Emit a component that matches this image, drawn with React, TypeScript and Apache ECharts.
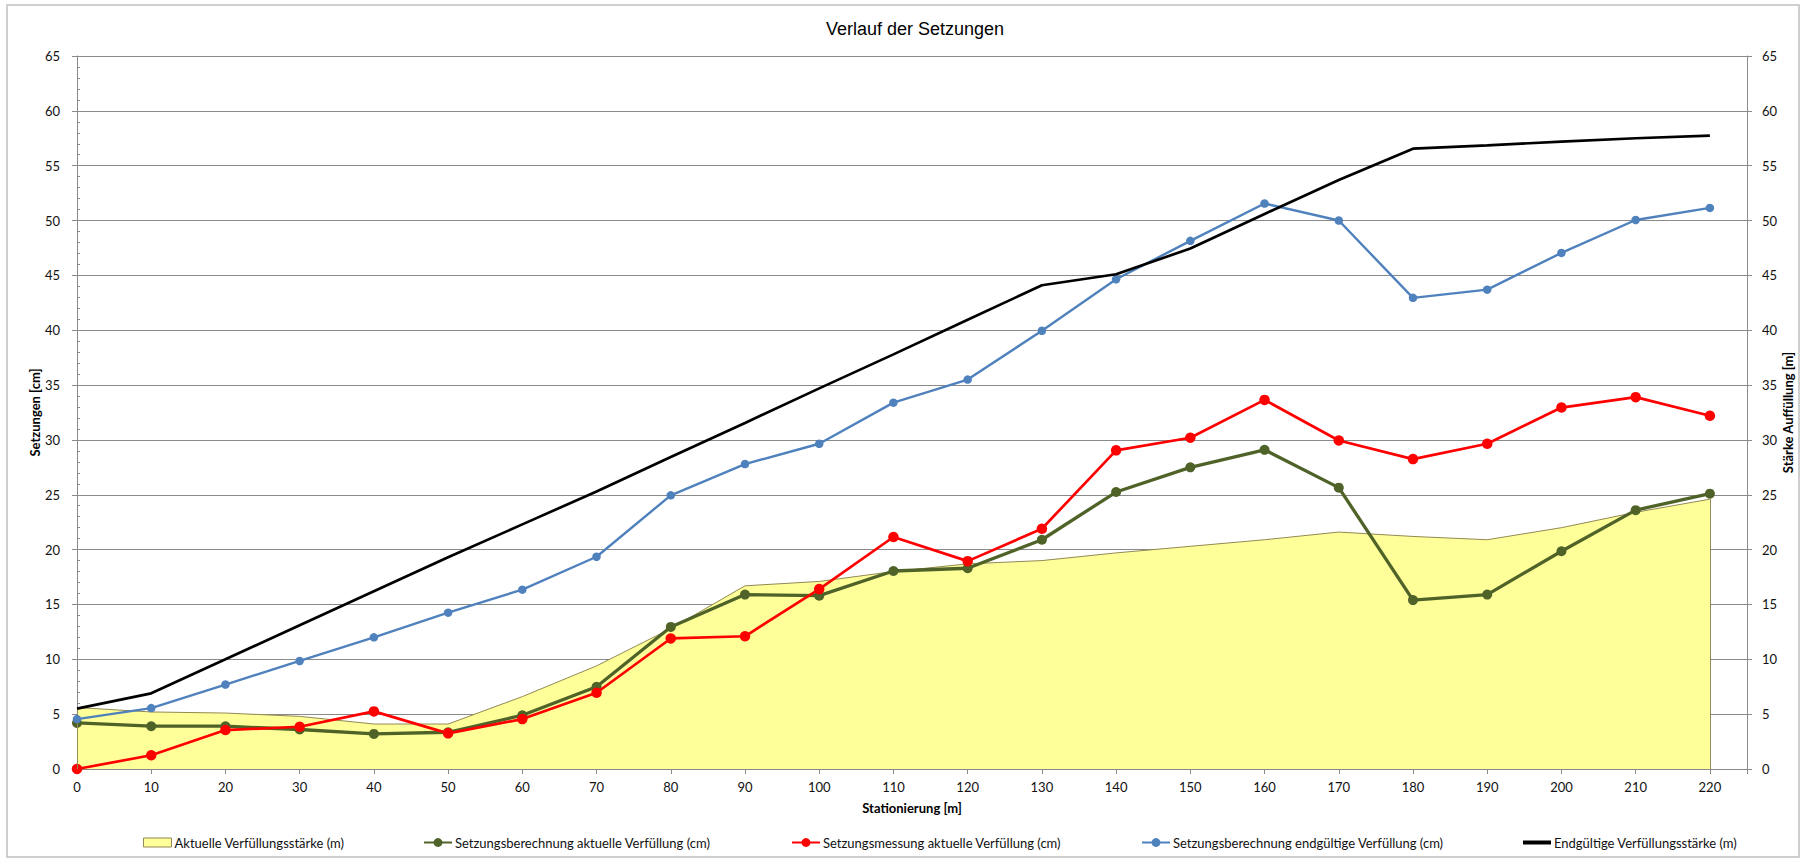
import React, { useEffect, useRef } from "react";
import * as echarts from "echarts";

// ---- data ----
const stations = [0, 10, 20, 30, 40, 50, 60, 70, 80, 90, 100, 110, 120, 130, 140, 150, 160, 170, 180, 190, 200, 210, 220];
const fillCurrent = [5.6, 5.2, 5.1, 4.8, 4.1, 4.1, 6.6, 9.4, 12.8, 16.7, 17.1, 18.0, 18.7, 19.0, 19.7, 20.3, 20.9, 21.6, 21.2, 20.9, 22.0, 23.4, 24.6];
const calcCurrent = [4.2, 3.9, 3.9, 3.6, 3.2, 3.35, 4.9, 7.5, 12.95, 15.9, 15.8, 18.05, 18.3, 20.9, 25.25, 27.5, 29.1, 25.65, 15.4, 15.9, 19.85, 23.6, 25.1];
const measured = [0, 1.25, 3.55, 3.85, 5.25, 3.25, 4.55, 6.95, 11.9, 12.1, 16.4, 21.15, 18.95, 21.9, 29.05, 30.2, 33.65, 29.95, 28.25, 29.65, 32.95, 33.9, 32.2];
const calcFinal = [4.55, 5.55, 7.7, 9.85, 12.0, 14.25, 16.35, 19.35, 24.95, 27.8, 29.65, 33.4, 35.5, 39.95, 44.65, 48.15, 51.55, 50.0, 42.95, 43.7, 47.05, 50.05, 51.15];
const fillFinal = [5.5, 6.9, 10.0, 13.1, 16.2, 19.3, 22.3, 25.3, 28.45, 31.55, 34.7, 37.8, 40.95, 44.1, 45.1, 47.45, 50.6, 53.7, 56.55, 56.85, 57.2, 57.5, 57.75];

const seriesNames = [
  "Aktuelle Verfüllungsstärke (m)",
  "Setzungsberechnung aktuelle Verfüllung (cm)",
  "Setzungsmessung aktuelle Verfüllung (cm)",
  "Setzungsberechnung endgültige Verfüllung (cm)",
  "Endgültige Verfüllungsstärke (m)",
];
const yTickMax = 65;
const yTickStep = 5;
const xMax = 225;
const xStep = 10;

// ---- layout / style ----
const legendLefts = [143, 423, 791, 1141, 1523];
const FONT = "Lato";
const GRID_COLOR = "#8a8a8a";
const AREA_FILL = "#FFFF99";
const AREA_LINE = "#938953";
const GREEN = "#4F6228";
const RED = "#FF0000";
const BLUE = "#4F81BD";
const BLACK = "#000000";

const pairs = (vals: number[]) => stations.map((s, i) => [s, vals[i]]);

export default function App() {
  const ref = useRef<HTMLDivElement>(null);

  useEffect(() => {
    if (!ref.current) return;
    const chart = echarts.init(ref.current, null, { renderer: "svg" });
    const last = stations.length - 1;

    const labelStyle = { fontFamily: FONT, fontSize: 13, color: "#111" };
    const nameStyle = { fontFamily: FONT, fontSize: 13, fontWeight: "bold" as const, color: "#000" };

    const legends = seriesNames.map((n, i) => {
      let item: any = { name: n };
      let h = 11;
      if (i === 0) {
        item = { name: n, icon: "rect", itemStyle: { color: AREA_FILL, borderColor: AREA_LINE, borderWidth: 1 } };
        h = 9;
      } else if (i === 4) {
        item = { name: n, icon: "rect", itemStyle: { color: BLACK, borderWidth: 0 } };
        h = 4;
      }
      return {
        show: true,
        left: legendLefts[i],
        top: 836,
        padding: 0,
        orient: "horizontal",
        itemWidth: 28,
        itemHeight: h,
        itemGap: 0,
        selectedMode: false,
        textStyle: { fontFamily: FONT, fontSize: 13, color: "#111", padding: [0, 0, 0, -2] },
        data: [item],
      };
    });

    chart.setOption({
      animation: false,
      backgroundColor: "#ffffff",
      title: {
        text: "Verlauf der Setzungen",
        left: 910,
        top: 15,
        textAlign: "center",
        textStyle: { fontFamily: "Liberation Sans", fontSize: 18, fontWeight: "normal", color: "#000" },
      },
      graphic: [
        {
          type: "rect",
          shape: { x: 7, y: 5, width: 1792, height: 852 },
          style: { fill: "none", stroke: "#c0c0c0", lineWidth: 1.5 },
          silent: true,
          z: -10,
        },
      ],
      legend: legends,
      grid: { left: 77, right: 66, top: 56, bottom: 95, containLabel: false },
      xAxis: {
        type: "value",
        min: 0,
        max: xMax,
        interval: xStep,
        name: "Stationierung [m]",
        nameLocation: "middle",
        nameGap: 32,
        nameMoveOverlap: false,
        nameTextStyle: nameStyle,
        axisLine: { show: true, onZero: false, lineStyle: { color: GRID_COLOR, width: 1 } },
        axisTick: { show: true, inside: false, length: 5, lineStyle: { color: GRID_COLOR } },
        axisLabel: {
          ...labelStyle,
          margin: 11,
          formatter: (v: number) => (v > stations[last] ? "" : String(v)),
        },
        splitLine: { show: false },
      },
      yAxis: [
        {
          type: "value",
          position: "left",
          min: 0,
          max: yTickMax,
          interval: yTickStep,
          name: "Setzungen [cm]",
          nameLocation: "middle",
          nameGap: 36,
          nameMoveOverlap: false,
          nameTextStyle: nameStyle,
          axisLine: { show: true, lineStyle: { color: GRID_COLOR, width: 1 } },
          axisTick: { show: true, inside: false, length: 5, lineStyle: { color: GRID_COLOR } },
          axisLabel: { ...labelStyle, margin: 17 },
          splitLine: { show: true, lineStyle: { color: GRID_COLOR, width: 1 } },
        },
        {
          type: "value",
          position: "right",
          min: 0,
          max: yTickMax,
          interval: yTickStep,
          name: "Stärke Auffüllung [m]",
          nameLocation: "middle",
          nameGap: 34,
          nameMoveOverlap: false,
          nameTextStyle: nameStyle,
          axisLine: { show: true, lineStyle: { color: GRID_COLOR, width: 1 } },
          axisTick: { show: true, inside: false, length: 5, lineStyle: { color: GRID_COLOR } },
          axisLabel: { ...labelStyle, margin: 15 },
          splitLine: { show: false },
        },
        {
          // minor ticks on the primary axis (inside)
          type: "value",
          position: "left",
          min: 0,
          max: yTickMax,
          interval: 1,
          axisLine: { show: false },
          axisTick: { show: true, inside: true, length: 3, lineStyle: { color: GRID_COLOR } },
          axisLabel: { show: false },
          splitLine: { show: false },
        },
      ],
      series: [
        {
          name: seriesNames[0],
          type: "line",
          yAxisIndex: 1,
          data: pairs(fillCurrent),
          showSymbol: false,
          symbol: "none",
          lineStyle: { color: AREA_LINE, width: 1 },
          itemStyle: { color: AREA_FILL },
          areaStyle: { color: AREA_FILL, opacity: 1 },
          z: 1,
          silent: true,
          markLine: {
            silent: true,
            symbol: "none",
            label: { show: false },
            lineStyle: { color: AREA_LINE, width: 1, type: "solid" },
            data: [
              [{ coord: [stations[0], 0] }, { coord: [stations[0], fillCurrent[0]] }],
              [{ coord: [stations[last], 0] }, { coord: [stations[last], fillCurrent[last]] }],
            ],
          },
        },
        {
          name: seriesNames[1],
          type: "line",
          yAxisIndex: 0,
          data: pairs(calcCurrent),
          symbol: "circle",
          symbolSize: 10,
          lineStyle: { color: GREEN, width: 3.3 },
          itemStyle: { color: GREEN, borderWidth: 0 },
          z: 3,
          silent: true,
        },
        {
          name: seriesNames[2],
          type: "line",
          yAxisIndex: 0,
          data: pairs(measured),
          symbol: "circle",
          symbolSize: 10.5,
          lineStyle: { color: RED, width: 2.7 },
          itemStyle: { color: RED, borderWidth: 0 },
          z: 4,
          silent: true,
        },
        {
          name: seriesNames[3],
          type: "line",
          yAxisIndex: 0,
          data: pairs(calcFinal),
          symbol: "circle",
          symbolSize: 8.5,
          lineStyle: { color: BLUE, width: 2.4 },
          itemStyle: { color: BLUE, borderWidth: 0 },
          z: 5,
          silent: true,
        },
        {
          name: seriesNames[4],
          type: "line",
          yAxisIndex: 1,
          data: pairs(fillFinal),
          symbol: "none",
          showSymbol: false,
          lineStyle: { color: BLACK, width: 2.7 },
          itemStyle: { color: BLACK },
          z: 6,
          silent: true,
        },
      ],
    });

    return () => chart.dispose();
  }, []);

  return (
    <div
      ref={ref}
      style={{ position: "absolute", left: 0, top: 0, width: 1813, height: 864 }}
    />
  );
}
